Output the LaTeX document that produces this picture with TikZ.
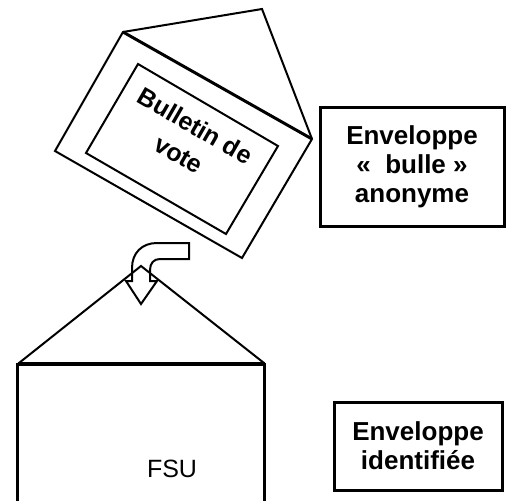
\documentclass[tikz,border=0pt]{standalone}
\usepackage{fontspec}
\setmainfont{Liberation Sans}
\begin{document}
\begin{tikzpicture}[x=1pt,y=-1pt,
  thin line/.style={line width=2pt,line join=miter},
  thick line/.style={line width=3pt,line join=miter},
  labelbox/.style={draw,line width=3pt,align=center,inner sep=0pt,
    font=\fontsize{26}{29}\selectfont\bfseries},
  ballot text/.style={align=center,rotate=-30,inner sep=0pt,
    font=\fontsize{25}{33}\selectfont\bfseries},
  urn text/.style={inner sep=0pt,font=\fontsize{25}{30}\selectfont}]
\useasboundingbox (0,0) rectangle (512,501);

% envelope "bulle"
\coordinate (eA) at (123,32);
\coordinate (eB) at (312,139);
\coordinate (eC) at (242,258);
\coordinate (eD) at (55,151);
\coordinate (flap) at (262,9);
\draw[thin line] (eA) -- (flap) -- (eB) -- (eC) -- (eD) -- cycle;
\draw[thick line] (eA) -- (eB);

% ballot
\coordinate (bA) at (138,64);
\coordinate (bB) at (278,146);
\coordinate (bC) at (226,234);
\coordinate (bD) at (86,153);
\draw[thin line] (bA) -- (bB) -- (bC) -- (bD) -- cycle;
\node[ballot text] (ballot) at (187,140) {Bulletin de\\vote};

% labels
\node[labelbox,minimum width=184pt,minimum height=119pt] (anon) at (412,166.5)
  {Enveloppe\\«~~bulle~»\\anonyme};
\node[labelbox,minimum width=168pt,minimum height=88pt] (ident) at (418,446)
  {Enveloppe\\identifiée};

% curved block arrow
\coordinate (a1) at (189,243);
\coordinate (a2) at (157,243);
\coordinate (a3) at (132,268);
\coordinate (a4) at (132,281);
\coordinate (a5) at (126,281);
\coordinate (tip) at (141,304);
\coordinate (a6) at (157,281);
\coordinate (a7) at (150,281);
\coordinate (a8) at (150,270);
\coordinate (a9) at (160,259);
\coordinate (a10) at (189,259);
\draw[thin line,fill=white] (a1) -- (a2) .. controls (142,243) and (132,253) .. (a3)
  -- (a4) -- (a5) -- (tip) -- (a6) -- (a7) -- (a8)
  .. controls (150,263) and (154,259) .. (a9) -- (a10) -- cycle;

% urn / identified envelope
\coordinate (rL) at (19,363);
\coordinate (apex) at (141,266);
\coordinate (rR) at (264,363);
\draw[thin line] (rL) -- (apex) -- (rR);
\coordinate (uTL) at (17.5,364);
\coordinate (uTR) at (264.5,364);
\coordinate (uBL) at (17.5,510);
\coordinate (uBR) at (264.5,510);
\draw[thick line] (uBL) -- (uTL) -- (uTR) -- (uBR);
\draw[line width=4pt] (uTL) -- (uTR);
\node[urn text] (fsu) at (172,469) {FSU};
\end{tikzpicture}
\end{document}
